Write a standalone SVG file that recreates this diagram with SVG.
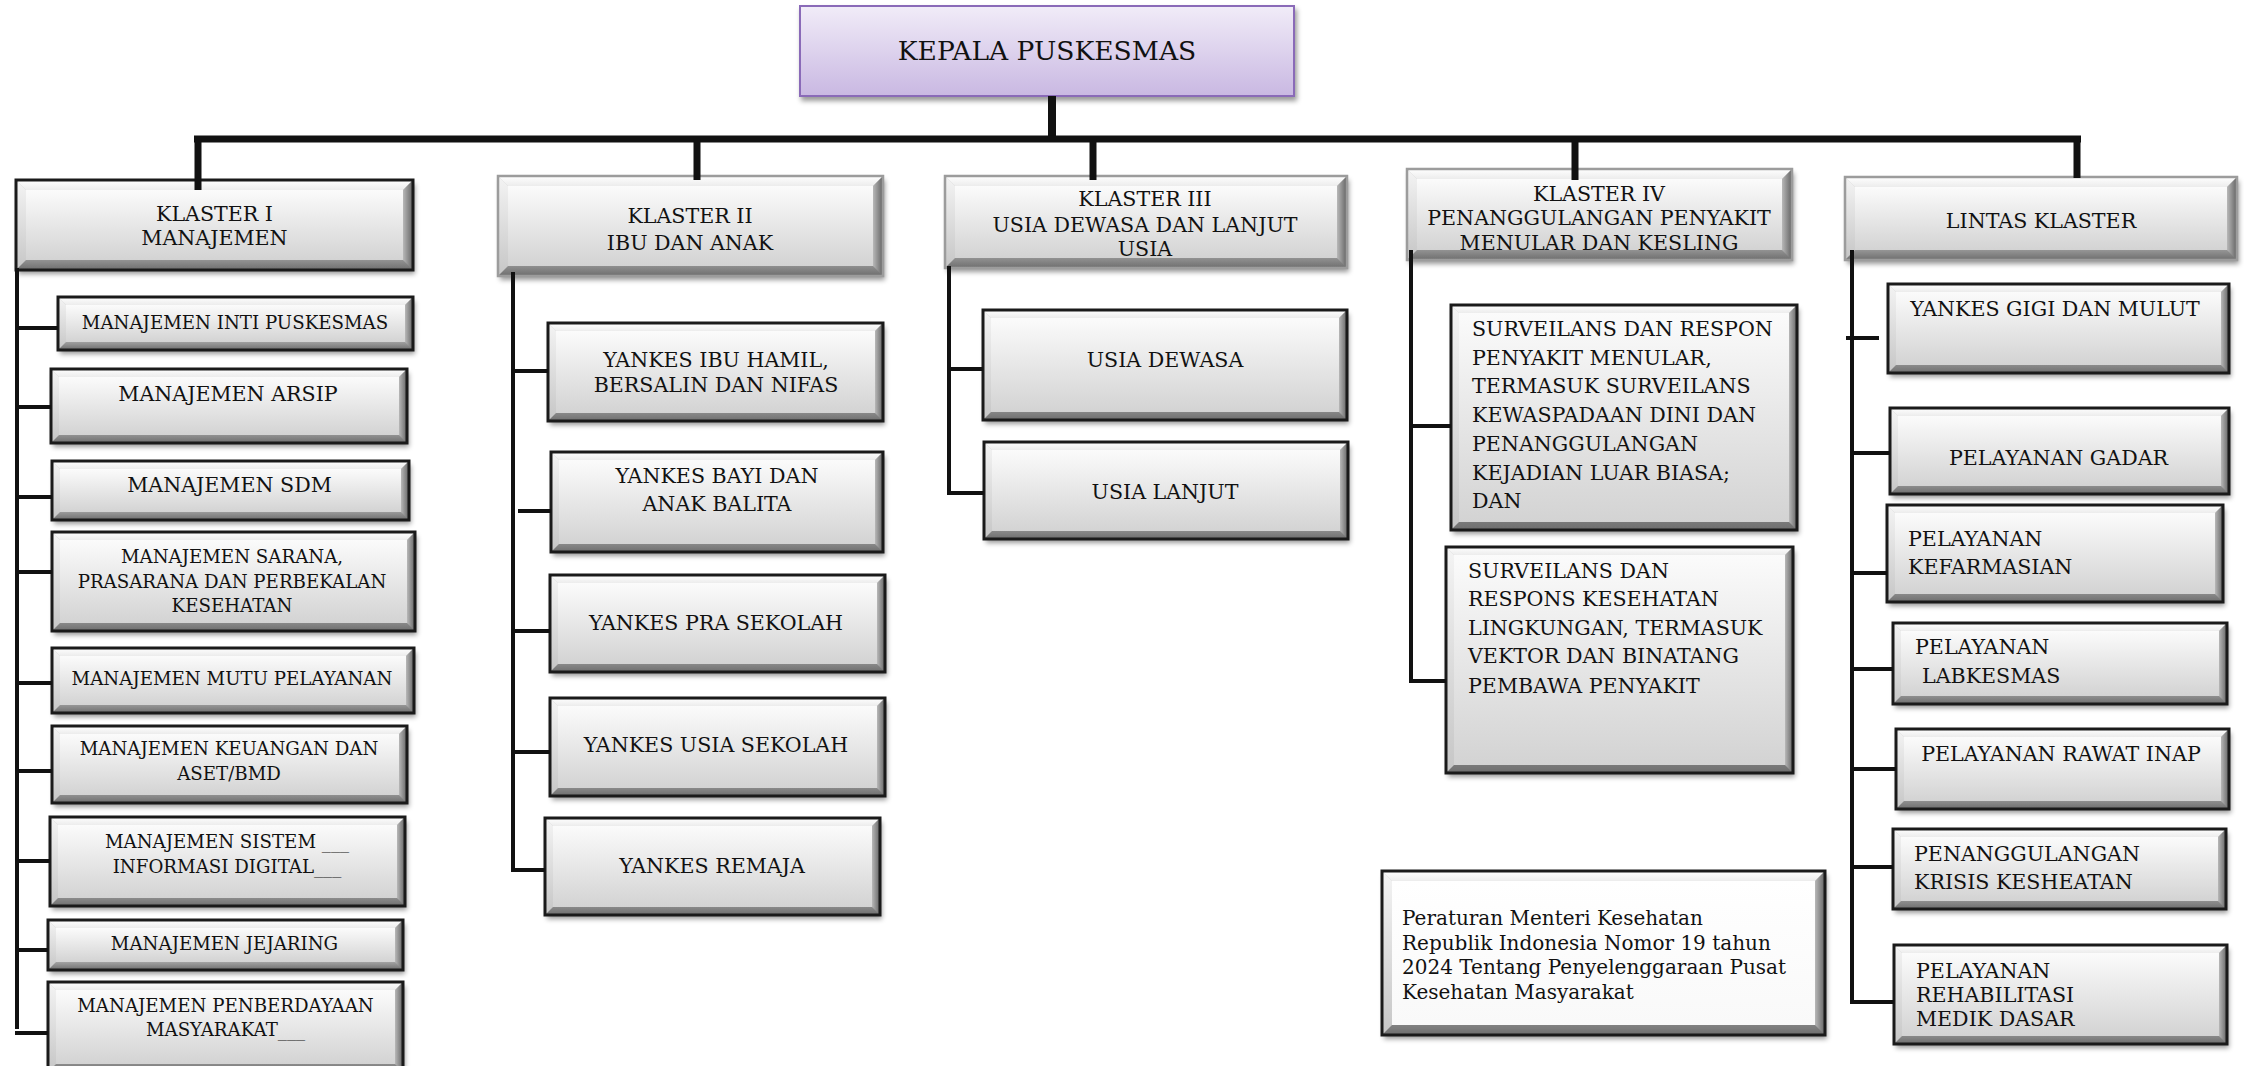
<svg xmlns="http://www.w3.org/2000/svg" width="2244" height="1066" viewBox="0 0 2244 1066">
<defs>
<style>
.base{fill:url(#gBot);filter:url(#sh)}
.bt{fill:url(#gTop)}
.bl{fill:url(#gLeft)}
.br{fill:url(#gRight)}
.face{fill:url(#gFace)}
.wface{fill:url(#gWhite)}
.frame{fill:none;stroke:#1a1a1a;stroke-width:3}
.hframe{fill:none;stroke:#9c9c9c;stroke-width:2.5}
text{font-family:"DejaVu Serif","Liberation Serif",serif;fill:#111}
.c{text-anchor:middle}
.f21{font-size:20.6px}
.f18{font-size:18.2px}
.f19{font-size:20px}
.wire{fill:none;stroke:#111}
</style>
<filter id="sh" x="-5%" y="-10%" width="112%" height="130%">
<feDropShadow dx="2" dy="4" stdDeviation="2.5" flood-color="#000" flood-opacity="0.4"/>
</filter>
<linearGradient id="gTop" x1="0" y1="0" x2="0" y2="1"><stop offset="0" stop-color="#ffffff"/><stop offset="1" stop-color="#ececec"/></linearGradient>
<linearGradient id="gLeft" x1="0" y1="0" x2="0" y2="1"><stop offset="0" stop-color="#f4f4f4"/><stop offset="1" stop-color="#c6c6c6"/></linearGradient>
<linearGradient id="gRight" x1="0" y1="0" x2="1" y2="0"><stop offset="0" stop-color="#b8b8b8"/><stop offset="1" stop-color="#636363"/></linearGradient>
<linearGradient id="gBot" x1="0" y1="0" x2="0" y2="1"><stop offset="0" stop-color="#d0d0d0"/><stop offset="0.8" stop-color="#b0b0b0"/><stop offset="1" stop-color="#6e6e6e"/></linearGradient>
<linearGradient id="gFace" x1="0" y1="0" x2="0" y2="1"><stop offset="0" stop-color="#fbfbfb"/><stop offset="1" stop-color="#d3d3d3"/></linearGradient>
<linearGradient id="gWhite" x1="0" y1="0" x2="0" y2="1"><stop offset="0" stop-color="#ffffff"/><stop offset="1" stop-color="#f9f9f9"/></linearGradient>
<linearGradient id="gLav" x1="0" y1="0" x2="0" y2="1"><stop offset="0" stop-color="#f1ecf8"/><stop offset="1" stop-color="#c9b8e2"/></linearGradient>
</defs>
<rect width="2244" height="1066" fill="#ffffff"/>

<g id="kepala">
<rect x="800" y="6" width="494" height="90" fill="url(#gLav)" stroke="#8a6bb8" stroke-width="2" filter="url(#sh)"/>
<text x="1047" y="60" class="c" style="font-size:26.5px">KEPALA PUSKESMAS</text>
</g>

<!-- Headers -->
<g id="klaster1" transform="translate(16,180)">
<rect class="base" width="397" height="90"/>
<polygon class="bt" points="0,0 397,0 387,10 10,10"/>
<polygon class="bl" points="0,0 10,10 10,80 0,90"/>
<polygon class="br" points="397,0 397,90 387,80 387,10"/>
<rect class="face" x="10" y="10" width="377" height="70"/>
<rect class="frame" width="397" height="90"/>
<text class="c f21" x="198.5" y="40.7">KLASTER I</text>
<text class="c f21" x="198.5" y="64.7">MANAJEMEN</text>
</g>

<g id="klaster2" transform="translate(498,176)">
<rect class="base" width="385" height="100"/>
<polygon class="bt" points="0,0 385,0 375,10 10,10"/>
<polygon class="bl" points="0,0 10,10 10,90 0,100"/>
<polygon class="br" points="385,0 385,100 375,90 375,10"/>
<rect class="face" x="10" y="10" width="365" height="80"/>
<rect class="hframe" width="385" height="100"/>
<text class="c f21" x="192" y="46.7">KLASTER II</text>
<text class="c f21" x="192" y="73.7">IBU DAN ANAK</text>
</g>

<g id="klaster3" transform="translate(945,176)">
<rect class="base" width="402" height="92"/>
<polygon class="bt" points="0,0 402,0 392,10 10,10"/>
<polygon class="bl" points="0,0 10,10 10,82 0,92"/>
<polygon class="br" points="402,0 402,92 392,82 392,10"/>
<rect class="face" x="10" y="10" width="382" height="72"/>
<rect class="hframe" width="402" height="92"/>
<text class="c f21" x="200" y="29.7">KLASTER III</text>
<text class="c f21" x="200" y="55.7">USIA DEWASA DAN LANJUT</text>
<text class="c f21" x="200" y="79.7">USIA</text>
</g>

<g id="klaster4" transform="translate(1407,169)">
<rect class="base" width="385" height="91"/>
<polygon class="bt" points="0,0 385,0 375,10 10,10"/>
<polygon class="bl" points="0,0 10,10 10,81 0,91"/>
<polygon class="br" points="385,0 385,91 375,81 375,10"/>
<rect class="face" x="10" y="10" width="365" height="71"/>
<rect class="hframe" width="385" height="91"/>
<text class="c f21" x="192" y="31.7">KLASTER IV</text>
<text class="c f21" x="192" y="55.7">PENANGGULANGAN PENYAKIT</text>
<text class="c f21" x="192" y="80.7">MENULAR DAN KESLING</text>
</g>

<g id="lintas" transform="translate(1845,177)">
<rect class="base" width="392" height="83"/>
<polygon class="bt" points="0,0 392,0 382,10 10,10"/>
<polygon class="bl" points="0,0 10,10 10,73 0,83"/>
<polygon class="br" points="392,0 392,83 382,73 382,10"/>
<rect class="face" x="10" y="10" width="372" height="63"/>
<rect class="hframe" width="392" height="83"/>
<text class="c f21" x="196" y="50.7">LINTAS KLASTER</text>
</g>

<!-- Klaster I children -->
<g id="k1-inti" transform="translate(58,297)">
<rect class="base" width="355" height="53"/>
<polygon class="bt" points="0,0 355,0 347,8 8,8"/>
<polygon class="bl" points="0,0 8,8 8,45 0,53"/>
<polygon class="br" points="355,0 355,53 347,45 347,8"/>
<rect class="face" x="8" y="8" width="339" height="37"/>
<rect class="frame" width="355" height="53"/>
<text class="c f18" x="177" y="31.7">MANAJEMEN INTI PUSKESMAS</text>
</g>

<g id="k1-arsip" transform="translate(51,369)">
<rect class="base" width="356" height="74"/>
<polygon class="bt" points="0,0 356,0 348,8 8,8"/>
<polygon class="bl" points="0,0 8,8 8,66 0,74"/>
<polygon class="br" points="356,0 356,74 348,66 348,8"/>
<rect class="face" x="8" y="8" width="340" height="58"/>
<rect class="frame" width="356" height="74"/>
<text class="c f21" x="177" y="31.7">MANAJEMEN ARSIP</text>
</g>

<g id="k1-sdm" transform="translate(52,461)">
<rect class="base" width="357" height="59"/>
<polygon class="bt" points="0,0 357,0 349,8 8,8"/>
<polygon class="bl" points="0,0 8,8 8,51 0,59"/>
<polygon class="br" points="357,0 357,59 349,51 349,8"/>
<rect class="face" x="8" y="8" width="341" height="43"/>
<rect class="frame" width="357" height="59"/>
<text class="c f21" x="177.5" y="30.7">MANAJEMEN SDM</text>
</g>

<g id="k1-sarana" transform="translate(52,532)">
<rect class="base" width="363" height="99"/>
<polygon class="bt" points="0,0 363,0 355,8 8,8"/>
<polygon class="bl" points="0,0 8,8 8,91 0,99"/>
<polygon class="br" points="363,0 363,99 355,91 355,8"/>
<rect class="face" x="8" y="8" width="347" height="83"/>
<rect class="frame" width="363" height="99"/>
<text class="c f18" x="180" y="30.7">MANAJEMEN SARANA,</text>
<text class="c f18" x="180" y="55.7">PRASARANA DAN PERBEKALAN</text>
<text class="c f18" x="180" y="79.7">KESEHATAN</text>
</g>

<g id="k1-mutu" transform="translate(52,648)">
<rect class="base" width="362" height="65"/>
<polygon class="bt" points="0,0 362,0 354,8 8,8"/>
<polygon class="bl" points="0,0 8,8 8,57 0,65"/>
<polygon class="br" points="362,0 362,65 354,57 354,8"/>
<rect class="face" x="8" y="8" width="346" height="49"/>
<rect class="frame" width="362" height="65"/>
<text class="c f18" x="180" y="36.7">MANAJEMEN MUTU PELAYANAN</text>
</g>

<g id="k1-keuangan" transform="translate(52,726)">
<rect class="base" width="355" height="77"/>
<polygon class="bt" points="0,0 355,0 347,8 8,8"/>
<polygon class="bl" points="0,0 8,8 8,69 0,77"/>
<polygon class="br" points="355,0 355,77 347,69 347,8"/>
<rect class="face" x="8" y="8" width="339" height="61"/>
<rect class="frame" width="355" height="77"/>
<text class="c f18" x="177" y="28.7">MANAJEMEN KEUANGAN DAN</text>
<text class="c f18" x="177" y="53.7">ASET/BMD</text>
</g>

<g id="k1-sistem" transform="translate(50,817)">
<rect class="base" width="355" height="89"/>
<polygon class="bt" points="0,0 355,0 347,8 8,8"/>
<polygon class="bl" points="0,0 8,8 8,81 0,89"/>
<polygon class="br" points="355,0 355,89 347,81 347,8"/>
<rect class="face" x="8" y="8" width="339" height="73"/>
<rect class="frame" width="355" height="89"/>
<text class="c f18" x="177" y="30.7">MANAJEMEN SISTEM ___</text>
<text class="c f18" x="177" y="55.7">INFORMASI DIGITAL___</text>
</g>

<g id="k1-jejaring" transform="translate(48,920)">
<rect class="base" width="355" height="50"/>
<polygon class="bt" points="0,0 355,0 347,8 8,8"/>
<polygon class="bl" points="0,0 8,8 8,42 0,50"/>
<polygon class="br" points="355,0 355,50 347,42 347,8"/>
<rect class="face" x="8" y="8" width="339" height="34"/>
<rect class="frame" width="355" height="50"/>
<text class="c f18" x="176.5" y="29.7">MANAJEMEN JEJARING</text>
</g>

<g id="k1-pemberdayaan" transform="translate(48,982)">
<rect class="base" width="355" height="90"/>
<polygon class="bt" points="0,0 355,0 347,8 8,8"/>
<polygon class="bl" points="0,0 8,8 8,82 0,90"/>
<polygon class="br" points="355,0 355,90 347,82 347,8"/>
<rect class="face" x="8" y="8" width="339" height="74"/>
<rect class="frame" width="355" height="90"/>
<text class="c f18" x="177.5" y="29.7">MANAJEMEN PENBERDAYAAN</text>
<text class="c f18" x="177.5" y="53.7">MASYARAKAT___</text>
</g>

<!-- Klaster II children -->
<g id="k2-ibu" transform="translate(548,323)">
<rect class="base" width="335" height="98"/>
<polygon class="bt" points="0,0 335,0 327,8 8,8"/>
<polygon class="bl" points="0,0 8,8 8,90 0,98"/>
<polygon class="br" points="335,0 335,98 327,90 327,8"/>
<rect class="face" x="8" y="8" width="319" height="82"/>
<rect class="frame" width="335" height="98"/>
<text class="c f21" x="168" y="43.7">YANKES IBU HAMIL,</text>
<text class="c f21" x="168" y="68.7">BERSALIN DAN NIFAS</text>
</g>

<g id="k2-bayi" transform="translate(551,452)">
<rect class="base" width="332" height="100"/>
<polygon class="bt" points="0,0 332,0 324,8 8,8"/>
<polygon class="bl" points="0,0 8,8 8,92 0,100"/>
<polygon class="br" points="332,0 332,100 324,92 324,8"/>
<rect class="face" x="8" y="8" width="316" height="84"/>
<rect class="frame" width="332" height="100"/>
<text class="c f21" x="166" y="30.7">YANKES BAYI DAN</text>
<text class="c f21" x="166" y="58.7">ANAK BALITA</text>
</g>

<g id="k2-pra" transform="translate(550,575)">
<rect class="base" width="335" height="97"/>
<polygon class="bt" points="0,0 335,0 327,8 8,8"/>
<polygon class="bl" points="0,0 8,8 8,89 0,97"/>
<polygon class="br" points="335,0 335,97 327,89 327,8"/>
<rect class="face" x="8" y="8" width="319" height="81"/>
<rect class="frame" width="335" height="97"/>
<text class="c f21" x="166" y="54.7">YANKES PRA SEKOLAH</text>
</g>

<g id="k2-usia-sekolah" transform="translate(550,698)">
<rect class="base" width="335" height="98"/>
<polygon class="bt" points="0,0 335,0 327,8 8,8"/>
<polygon class="bl" points="0,0 8,8 8,90 0,98"/>
<polygon class="br" points="335,0 335,98 327,90 327,8"/>
<rect class="face" x="8" y="8" width="319" height="82"/>
<rect class="frame" width="335" height="98"/>
<text class="c f21" x="166" y="53.7">YANKES USIA SEKOLAH</text>
</g>

<g id="k2-remaja" transform="translate(545,818)">
<rect class="base" width="335" height="97"/>
<polygon class="bt" points="0,0 335,0 327,8 8,8"/>
<polygon class="bl" points="0,0 8,8 8,89 0,97"/>
<polygon class="br" points="335,0 335,97 327,89 327,8"/>
<rect class="face" x="8" y="8" width="319" height="81"/>
<rect class="frame" width="335" height="97"/>
<text class="c f21" x="167" y="54.7">YANKES REMAJA</text>
</g>

<!-- Klaster III children -->
<g id="k3-dewasa" transform="translate(983,310)">
<rect class="base" width="364" height="110"/>
<polygon class="bt" points="0,0 364,0 356,8 8,8"/>
<polygon class="bl" points="0,0 8,8 8,102 0,110"/>
<polygon class="br" points="364,0 364,110 356,102 356,8"/>
<rect class="face" x="8" y="8" width="348" height="94"/>
<rect class="frame" width="364" height="110"/>
<text class="c f21" x="182" y="56.7">USIA DEWASA</text>
</g>

<g id="k3-lanjut" transform="translate(984,442)">
<rect class="base" width="364" height="97"/>
<polygon class="bt" points="0,0 364,0 356,8 8,8"/>
<polygon class="bl" points="0,0 8,8 8,89 0,97"/>
<polygon class="br" points="364,0 364,97 356,89 356,8"/>
<rect class="face" x="8" y="8" width="348" height="81"/>
<rect class="frame" width="364" height="97"/>
<text class="c f21" x="181" y="56.7">USIA LANJUT</text>
</g>

<!-- Klaster IV children -->
<g id="k4-surveilans-menular" transform="translate(1451,305)">
<rect class="base" width="346" height="225"/>
<polygon class="bt" points="0,0 346,0 338,8 8,8"/>
<polygon class="bl" points="0,0 8,8 8,217 0,225"/>
<polygon class="br" points="346,0 346,225 338,217 338,8"/>
<rect class="face" x="8" y="8" width="330" height="209"/>
<rect class="frame" width="346" height="225"/>
<text class="f21" x="21" y="30.7">SURVEILANS DAN RESPON</text>
<text class="f21" x="21" y="59.7">PENYAKIT MENULAR,</text>
<text class="f21" x="21" y="87.7">TERMASUK SURVEILANS</text>
<text class="f21" x="21" y="116.7">KEWASPADAAN DINI DAN</text>
<text class="f21" x="21" y="145.7">PENANGGULANGAN</text>
<text class="f21" x="21" y="174.7">KEJADIAN LUAR BIASA;</text>
<text class="f21" x="21" y="202.7">DAN</text>
</g>

<g id="k4-surveilans-kesling" transform="translate(1446,547)">
<rect class="base" width="347" height="226"/>
<polygon class="bt" points="0,0 347,0 339,8 8,8"/>
<polygon class="bl" points="0,0 8,8 8,218 0,226"/>
<polygon class="br" points="347,0 347,226 339,218 339,8"/>
<rect class="face" x="8" y="8" width="331" height="210"/>
<rect class="frame" width="347" height="226"/>
<text class="f21" x="22" y="30.7">SURVEILANS DAN</text>
<text class="f21" x="22" y="58.7">RESPONS KESEHATAN</text>
<text class="f21" x="22" y="87.7">LINGKUNGAN, TERMASUK</text>
<text class="f21" x="22" y="115.7">VEKTOR DAN BINATANG</text>
<text class="f21" x="22" y="145.7">PEMBAWA PENYAKIT</text>
</g>

<!-- Lintas Klaster children -->
<g id="lk-gigi" transform="translate(1888,284)">
<rect class="base" width="341" height="89"/>
<polygon class="bt" points="0,0 341,0 333,8 8,8"/>
<polygon class="bl" points="0,0 8,8 8,81 0,89"/>
<polygon class="br" points="341,0 341,89 333,81 333,8"/>
<rect class="face" x="8" y="8" width="325" height="73"/>
<rect class="frame" width="341" height="89"/>
<text class="c f21" x="167" y="31.7">YANKES GIGI DAN MULUT</text>
</g>

<g id="lk-gadar" transform="translate(1890,408)">
<rect class="base" width="339" height="86"/>
<polygon class="bt" points="0,0 339,0 331,8 8,8"/>
<polygon class="bl" points="0,0 8,8 8,78 0,86"/>
<polygon class="br" points="339,0 339,86 331,78 331,8"/>
<rect class="face" x="8" y="8" width="323" height="70"/>
<rect class="frame" width="339" height="86"/>
<text class="c f21" x="168.5" y="56.7">PELAYANAN GADAR</text>
</g>

<g id="lk-kefarmasian" transform="translate(1887,505)">
<rect class="base" width="336" height="97"/>
<polygon class="bt" points="0,0 336,0 328,8 8,8"/>
<polygon class="bl" points="0,0 8,8 8,89 0,97"/>
<polygon class="br" points="336,0 336,97 328,89 328,8"/>
<rect class="face" x="8" y="8" width="320" height="81"/>
<rect class="frame" width="336" height="97"/>
<text class="f21" x="21" y="40.7">PELAYANAN</text>
<text class="f21" x="21" y="68.7">KEFARMASIAN</text>
</g>

<g id="lk-labkesmas" transform="translate(1893,623)">
<rect class="base" width="334" height="81"/>
<polygon class="bt" points="0,0 334,0 326,8 8,8"/>
<polygon class="bl" points="0,0 8,8 8,73 0,81"/>
<polygon class="br" points="334,0 334,81 326,73 326,8"/>
<rect class="face" x="8" y="8" width="318" height="65"/>
<rect class="frame" width="334" height="81"/>
<text class="f21" x="22" y="30.7">PELAYANAN</text>
<text class="f21" x="29" y="59.7">LABKESMAS</text>
</g>

<g id="lk-rawat-inap" transform="translate(1896,729)">
<rect class="base" width="333" height="80"/>
<polygon class="bt" points="0,0 333,0 325,8 8,8"/>
<polygon class="bl" points="0,0 8,8 8,72 0,80"/>
<polygon class="br" points="333,0 333,80 325,72 325,8"/>
<rect class="face" x="8" y="8" width="317" height="64"/>
<rect class="frame" width="333" height="80"/>
<text class="c f21" x="165" y="31.7">PELAYANAN RAWAT INAP</text>
</g>

<g id="lk-krisis" transform="translate(1893,829)">
<rect class="base" width="333" height="80"/>
<polygon class="bt" points="0,0 333,0 325,8 8,8"/>
<polygon class="bl" points="0,0 8,8 8,72 0,80"/>
<polygon class="br" points="333,0 333,80 325,72 325,8"/>
<rect class="face" x="8" y="8" width="317" height="64"/>
<rect class="frame" width="333" height="80"/>
<text class="f21" x="21" y="31.7">PENANGGULANGAN</text>
<text class="f21" x="21" y="59.7">KRISIS KESHEATAN</text>
</g>

<g id="lk-rehabilitasi" transform="translate(1894,945)">
<rect class="base" width="333" height="99"/>
<polygon class="bt" points="0,0 333,0 325,8 8,8"/>
<polygon class="bl" points="0,0 8,8 8,91 0,99"/>
<polygon class="br" points="333,0 333,99 325,91 325,8"/>
<rect class="face" x="8" y="8" width="317" height="83"/>
<rect class="frame" width="333" height="99"/>
<text class="f21" x="22" y="32.7">PELAYANAN</text>
<text class="f21" x="22" y="56.7">REHABILITASI</text>
<text class="f21" x="22" y="80.7">MEDIK DASAR</text>
</g>

<!-- Note box -->
<g id="peraturan" transform="translate(1382,871)">
<rect class="base" width="443" height="164"/>
<polygon class="bt" points="0,0 443,0 433,10 10,10"/>
<polygon class="bl" points="0,0 10,10 10,154 0,164"/>
<polygon class="br" points="443,0 443,164 433,154 433,10"/>
<rect class="wface" x="10" y="10" width="423" height="144"/>
<rect class="frame" width="443" height="164"/>
<text class="f19" x="20" y="54">Peraturan Menteri Kesehatan</text>
<text class="f19" x="20" y="79">Republik Indonesia Nomor 19 tahun</text>
<text class="f19" x="20" y="103">2024 Tentang Penyelenggaraan Pusat</text>
<text class="f19" x="20" y="128">Kesehatan Masyarakat</text>
</g>

<!-- Connectors -->
<g id="connectors" class="wire">
<path d="M1052,96 V139" stroke-width="8"/>
<path d="M194,139 H2081" stroke-width="7"/>
<path d="M198,139 V190 M697,139 V180 M1093,139 V180 M1575,139 V180 M2077,139 V178" stroke-width="7"/>
<path d="M17,268 V1029 M15,328 H58 M17,407 H51 M17,497 H52 M17,572 H52 M17,683 H52 M17,771 H52 M17,861 H50 M17,950 H48 M15,1033 H48" stroke-width="4"/>
<path d="M513,272 V872 M513,371 H548 M518,511 H551 M513,631 H550 M513,752 H550 M511,870 H545" stroke-width="4"/>
<path d="M949,266 V495 M949,369 H983 M947,493 H984" stroke-width="4"/>
<path d="M1411,250 V683 M1411,426 H1451 M1409,681 H1446" stroke-width="4"/>
<path d="M1852,250 V1004 M1846,338 H1879 M1852,453 H1890 M1852,573 H1887 M1852,669 H1893 M1852,769 H1896 M1852,867 H1893 M1850,1002 H1894" stroke-width="4"/>
</g>
</svg>
